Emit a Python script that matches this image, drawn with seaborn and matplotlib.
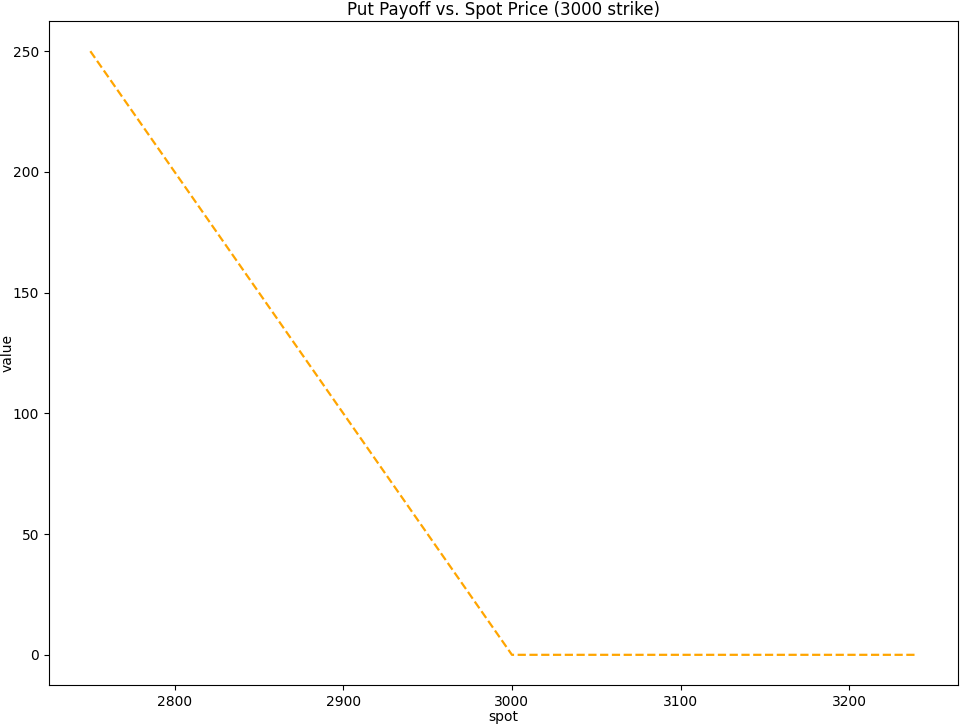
import matplotlib
matplotlib.use("Agg")
import matplotlib.pyplot as plt
import seaborn as sns
import pandas as pd

# spot prices and put payoff (3000 strike)
spot = [2750, 2800, 2850, 2900, 2950, 3000, 3050, 3100, 3150, 3200, 3240]
value = [250, 200, 150, 100, 50, 0, 0, 0, 0, 0, 0]

df = pd.DataFrame({"spot": spot, "value": value})

fig, ax = plt.subplots(figsize=(9.6, 7.24), dpi=100)
fig.subplots_adjust(left=49 / 960, right=958 / 960, top=1 - 21 / 724, bottom=1 - 685 / 724)

sns.lineplot(data=df, x="spot", y="value", ax=ax, color="orange", linestyle="--", linewidth=1.6)

ax.set_title("Put Payoff vs. Spot Price (3000 strike)", pad=4)
ax.set_xlabel("spot", labelpad=1)
ax.set_ylabel("value", labelpad=-1.5)

plt.savefig("out.png", dpi=100)
